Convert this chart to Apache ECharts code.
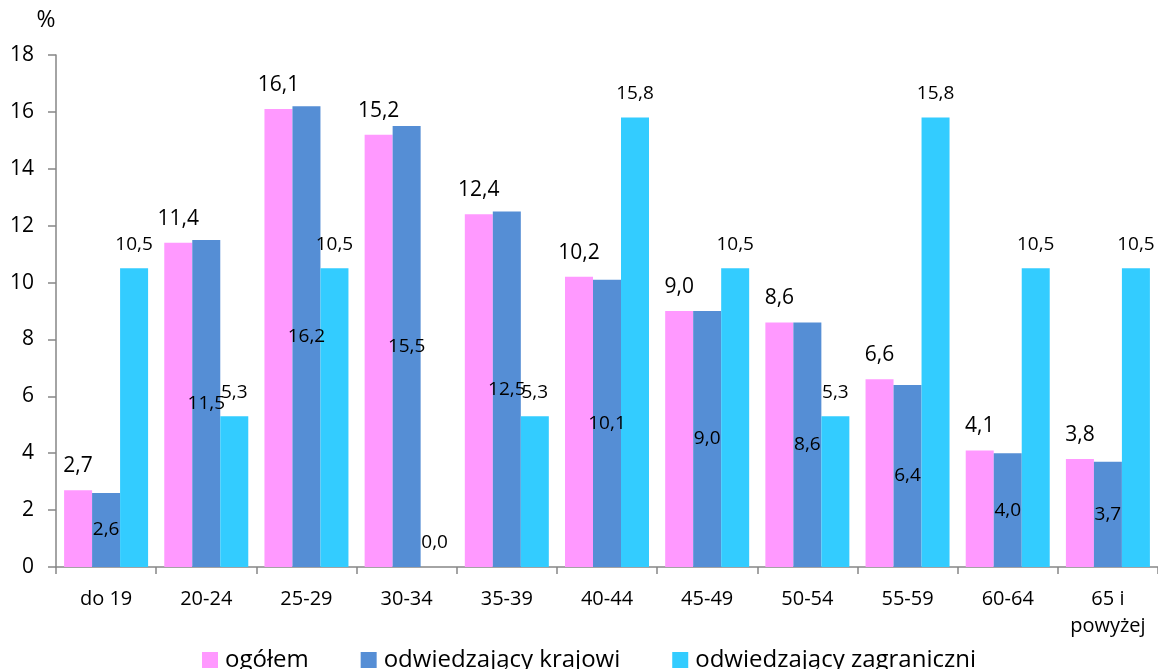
<!DOCTYPE html>
<html>
<head>
<meta charset="utf-8">
<style>
  html, body { margin: 0; padding: 0; background: #fff; }
  #chart { width: 1158px; height: 669px; }
</style>
<script src="https://cdn.jsdelivr.net/npm/echarts@6/dist/echarts.min.js"></script>
</head>
<body>
<div id="chart"></div>
<script>
// Age groups
const categories = ['do 19', '20-24', '25-29', '30-34', '35-39', '40-44', '45-49', '50-54', '55-59', '60-64', '65 i\npowyżej'];

// Share of visitors in each age group, %
const ogolem      = [2.7, 11.4, 16.1, 15.2, 12.4, 10.2, 9.0, 8.6, 6.6, 4.1, 3.8];
const krajowi     = [2.6, 11.5, 16.2, 15.5, 12.5, 10.1, 9.0, 8.6, 6.4, 4.0, 3.7];
const zagraniczni = [10.5, 5.3, 10.5, 0.0, 5.3, 15.8, 10.5, 5.3, 15.8, 10.5, 10.5];

const seriesNames = ['ogółem', 'odwiedzający krajowi', 'odwiedzający zagraniczni'];
const yTicks = { min: 0, max: 18, interval: 2 };

const FONT = '"Open Sans", "Noto Sans", sans-serif';
const AXIS_GRAY = '#868686';
const fmt = p => p.value.toFixed(1).replace('.', ',');

const chart = echarts.init(document.getElementById('chart'));

chart.setOption({
  animation: false,
  textStyle: { fontFamily: FONT, color: '#000' },
  grid: { left: 56, right: -3, top: 55, bottom: 102 },
  legend: {
    left: 202,
    top: 648,
    itemWidth: 16,
    itemHeight: 16,
    itemGap: 52,
    icon: 'rect',
    padding: 0,
    textStyle: { fontFamily: FONT, fontSize: 24, color: '#000', padding: [0, 0, 0, 2] },
    data: seriesNames
  },
  xAxis: {
    type: 'category',
    data: categories,
    boundaryGap: true,
    axisLine: { lineStyle: { color: AXIS_GRAY, width: 1.5 } },
    axisTick: { show: true, length: 7, interval: 0, lineStyle: { color: AXIS_GRAY, width: 1.5 } },
    axisLabel: { interval: 0, margin: 19, fontSize: 20, lineHeight: 27, color: '#000', fontFamily: FONT },
    splitLine: { show: false }
  },
  yAxis: {
    type: 'value',
    min: yTicks.min,
    max: yTicks.max,
    interval: yTicks.interval,
    name: '%',
    nameLocation: 'end',
    nameGap: 23,
    nameTextStyle: { fontSize: 23, color: '#000', fontFamily: FONT, padding: [0, 20, 0, 0] },
    axisLine: { show: true, lineStyle: { color: AXIS_GRAY, width: 1.5 } },
    axisTick: { show: true, length: 8, lineStyle: { color: AXIS_GRAY, width: 1.5 } },
    axisLabel: { margin: 22, fontSize: 21, color: '#000', fontFamily: FONT },
    splitLine: { show: false }
  },
  series: [
    {
      name: seriesNames[0],
      type: 'bar',
      data: ogolem,
      barWidth: 28,
      barGap: '0%',
      itemStyle: { color: '#FF99FF' },
      label: { show: true, position: 'top', distance: 13, fontSize: 21, lineHeight: 22, color: '#000', formatter: fmt }
    },
    {
      name: seriesNames[1],
      type: 'bar',
      data: krajowi,
      barWidth: 28,
      barGap: '0%',
      itemStyle: { color: '#558ED5' },
      label: { show: true, position: 'inside', fontSize: 19, color: '#000', formatter: fmt }
    },
    {
      name: seriesNames[2],
      type: 'bar',
      data: zagraniczni,
      barWidth: 28,
      barGap: '0%',
      itemStyle: { color: '#33CCFF' },
      label: { show: true, position: 'top', distance: 14, fontSize: 19, lineHeight: 20, color: '#000', formatter: fmt }
    }
  ]
});
</script>
</body>
</html>
